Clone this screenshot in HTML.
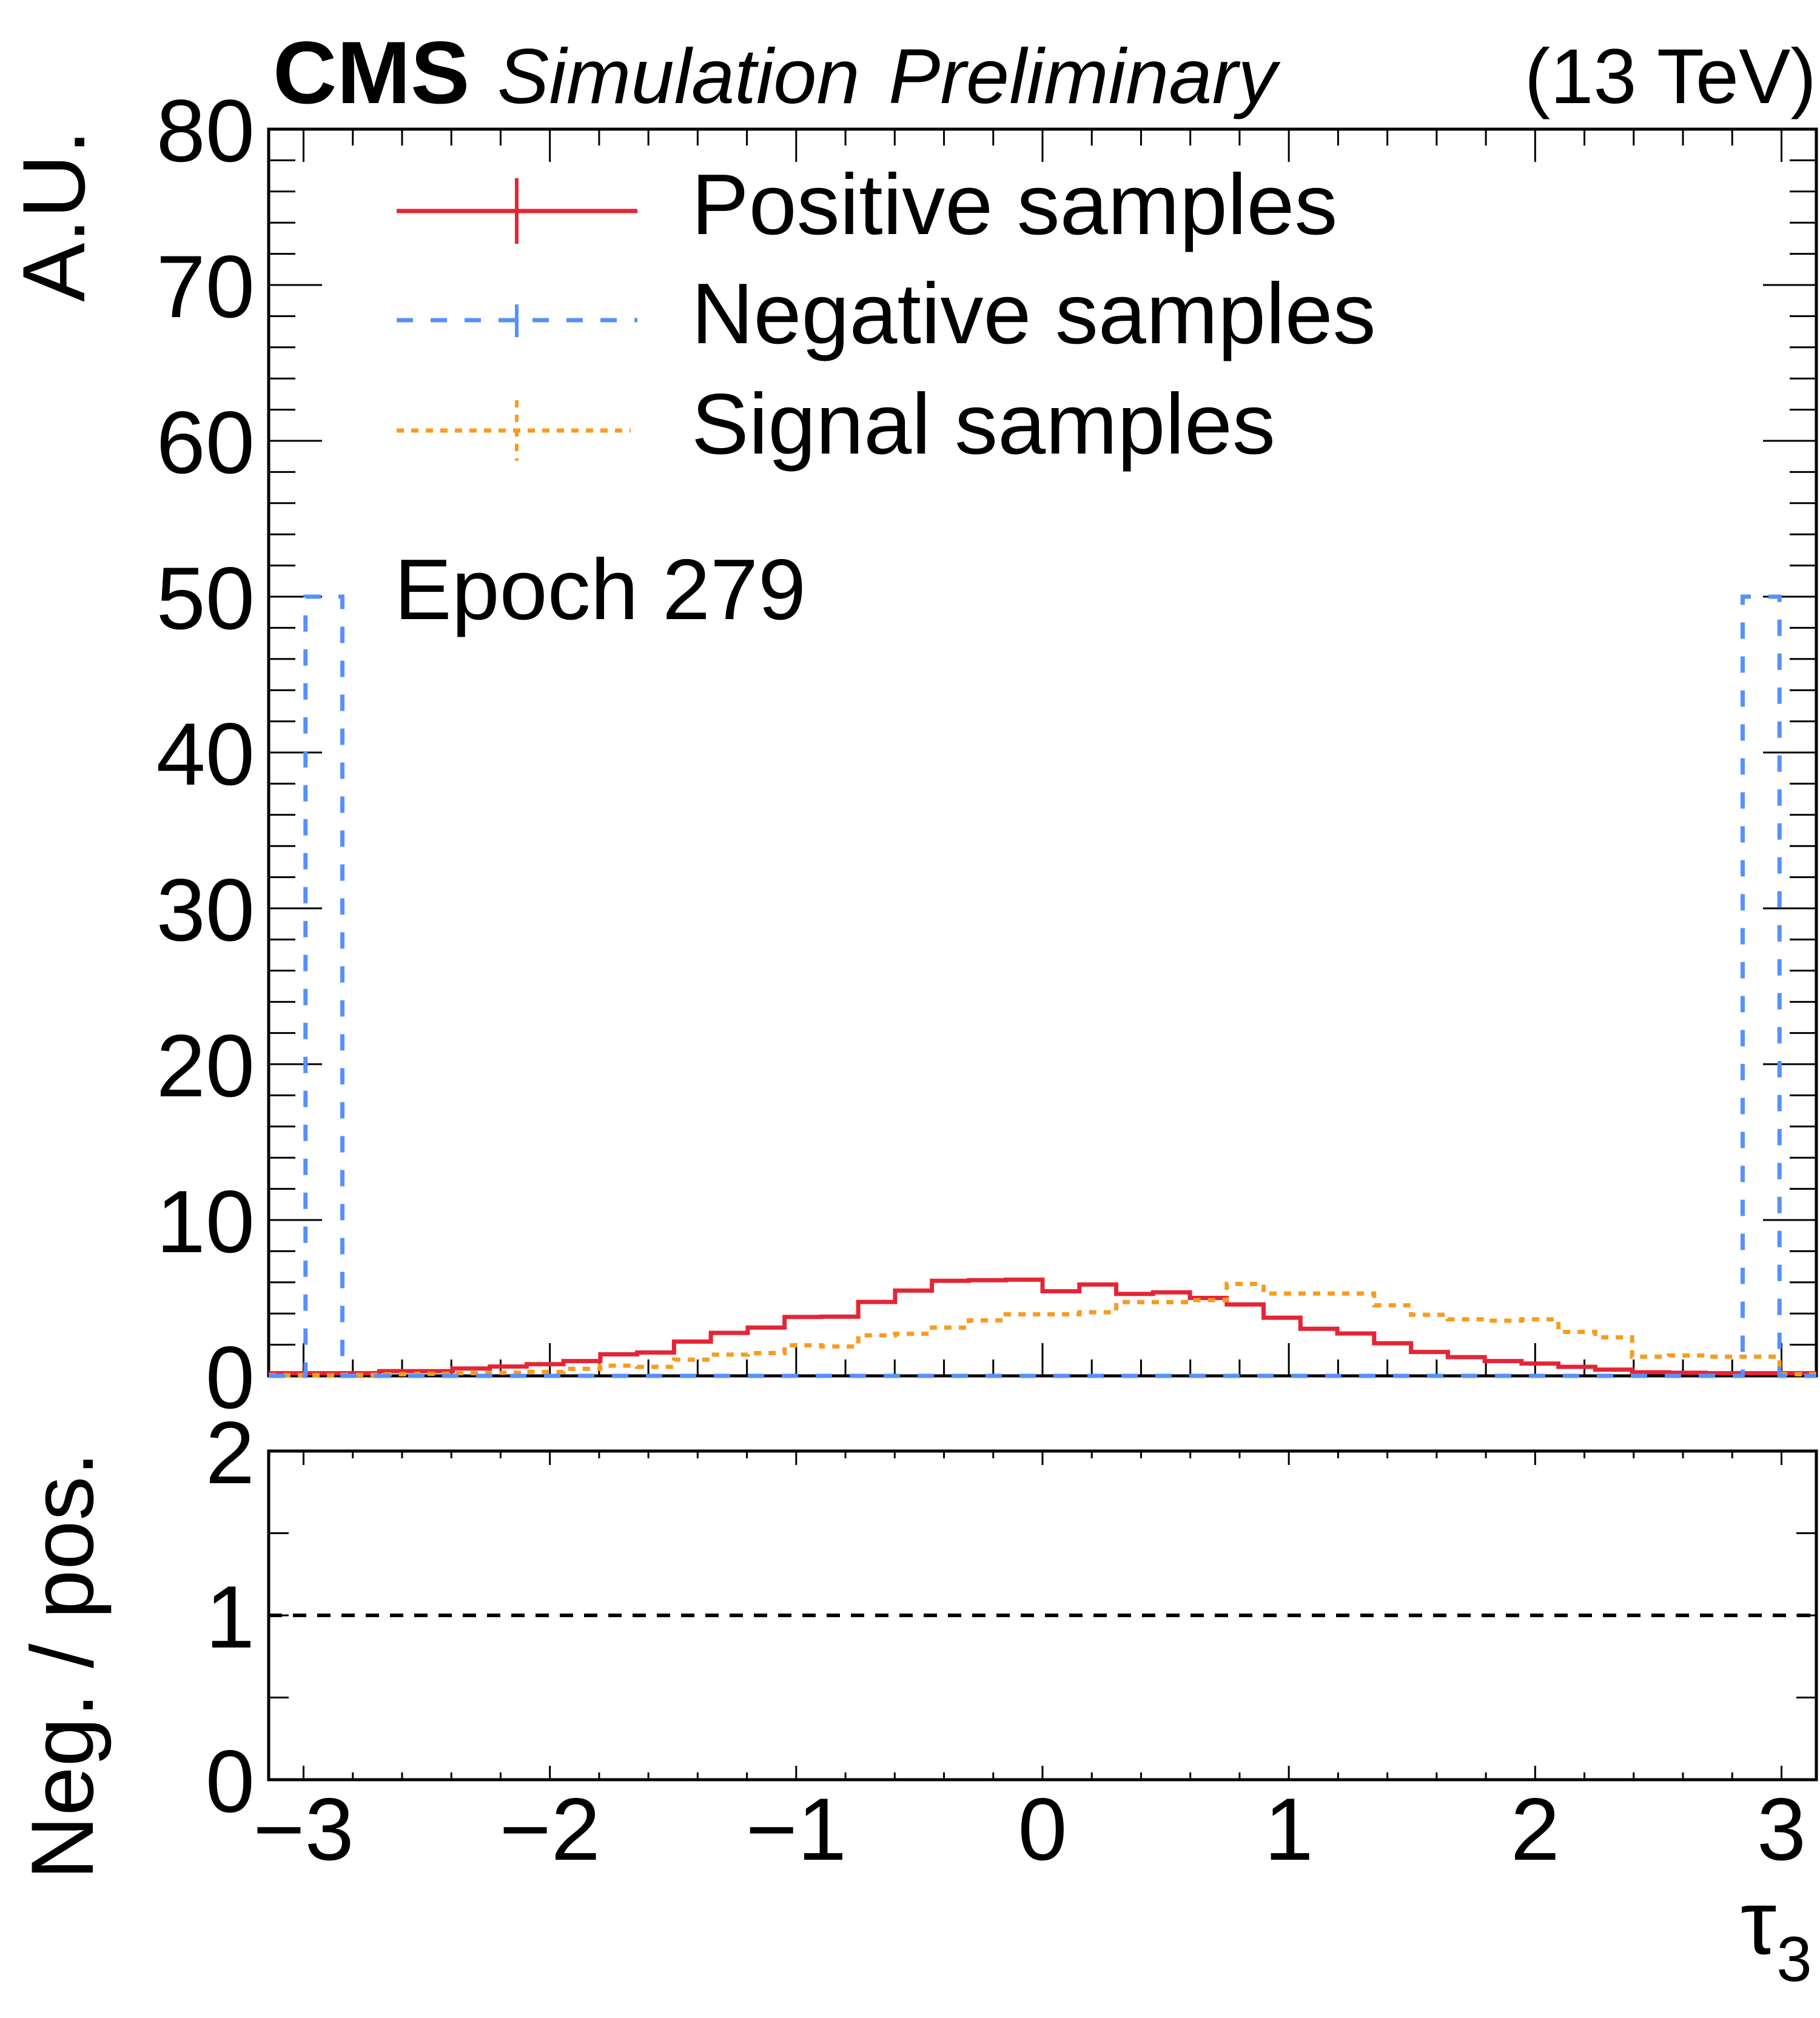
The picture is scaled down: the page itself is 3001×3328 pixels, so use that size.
<!DOCTYPE html>
<html><head><meta charset="utf-8"><style>
html,body{margin:0;padding:0;background:#fff}
svg{display:block}
text{font-family:"Liberation Sans",Arial,sans-serif;fill:#000}
</style></head><body>
<svg id="chart" width="3001" height="3328" viewBox="0 0 3001 3328" xmlns="http://www.w3.org/2000/svg">
<g id="axes"></g>
<g id="marks"></g>
<text x="450" y="170" font-size="146" font-weight="bold">CMS</text>
<text x="820" y="170" font-size="128" font-style="italic">Simulation</text>
<text x="1465" y="170" font-size="128" font-style="italic">Preliminary</text>
<text x="2995" y="170" font-size="128" text-anchor="end">(13 TeV)</text>
<text transform="translate(139,214) rotate(-90)" font-size="146" text-anchor="end">A.U.</text>
<text transform="translate(153,2394) rotate(-90)" font-size="146" text-anchor="end">Neg. / pos.</text>
<text x="2870" y="3222" font-size="150">τ<tspan font-size="105" dy="45">3</tspan></text>
<g>
<g>
<line x1="654" y1="348" x2="1051" y2="348" stroke="#e42536" stroke-width="7"/>
<line x1="852" y1="294" x2="852" y2="402" stroke="#e42536" stroke-width="6"/>
<text x="1140" y="386" font-size="142">Positive samples</text></g>
<g>
<line x1="654" y1="528" x2="1051" y2="528" stroke="#5790fc" stroke-width="7" stroke-dasharray="27,29"/>
<line x1="852" y1="502" x2="852" y2="556" stroke="#5790fc" stroke-width="6"/>
<text x="1140" y="566" font-size="142">Negative samples</text></g>
<g>
<line x1="654" y1="710" x2="1040" y2="710" stroke="#f89c20" stroke-width="7" stroke-dasharray="12,12"/>
<line x1="852" y1="660" x2="852" y2="760" stroke="#f89c20" stroke-width="6" stroke-dasharray="12,12"/>
<text x="1140" y="748" font-size="142">Signal samples</text></g>
</g>
<text x="650" y="1021" font-size="142">Epoch 279</text>
</svg>
<script>
const nBins = 42;
const xMin = -Math.PI, xMax = Math.PI;
const positiveValues = [0.17,0.17,0.17,0.3,0.3,0.47,0.6,0.75,0.95,1.38,1.5,2.2,2.76,3.1,3.78,3.8,4.74,5.47,6.1,6.14,6.17,5.43,5.86,5.26,5.36,5.0,4.58,3.73,3.02,2.72,2.09,1.53,1.2,0.95,0.79,0.58,0.4,0.23,0.2,0.17,0.17,0.17];
const negativeValues = [0,50,0,0,0,0,0,0,0,0,0,0,0,0,0,0,0,0,0,0,0,0,0,0,0,0,0,0,0,0,0,0,0,0,0,0,0,0,0,0,50,0];
const signalValues = [0.05,0.05,0.06,0.1,0.13,0.17,0.2,0.26,0.45,0.65,0.58,1.04,1.36,1.46,1.96,1.88,2.6,2.7,3.1,3.56,3.95,3.95,4.08,4.73,4.73,4.86,5.9,5.28,5.28,5.28,4.53,3.92,3.63,3.54,3.63,2.82,2.47,1.23,1.31,1.23,1.23,0.1];
const ratioValues = [1];
const xTickLabels = [-3,-2,-1,0,1,2,3];
const yTickLabels = [0,10,20,30,40,50,60,70,80];
const ratioTickLabels = [0,1,2];

const L=443,R=2995,T=213,B=2269,RT=2393,RB=2935;
const NS="http://www.w3.org/2000/svg";
const X=v=>L+(v-xMin)/(xMax-xMin)*(R-L);
const Y=v=>B-v/80*(B-T);
const YR=v=>RB-v/2*(RB-RT);
const marks=document.getElementById('marks'), axes=document.getElementById('axes');
function mk(tag,attrs,parent){const e=document.createElementNS(NS,tag);for(const k in attrs)e.setAttribute(k,attrs[k]);parent.appendChild(e);return e;}
function hist(vals,color,dash,name){
  const w=(xMax-xMin)/nBins;let d='';
  vals.forEach((v,i)=>{const x0=X(xMin+i*w),x1=X(xMin+(i+1)*w),y=Y(v);
    d+=(i===0?'M'+x0+','+y:'L'+x0+','+y)+'L'+x1+','+y;});
  const p=mk('path',{d:d,fill:'none',stroke:color,'stroke-width':7,'stroke-dasharray':dash},marks);
  
  
}
hist(positiveValues,'#e42536','none','positive-histogram');
hist(signalValues,'#f89c20','12,12','signal-histogram');
hist(negativeValues,'#5790fc','27,29','negative-histogram');
ratioValues.forEach(v=>{
  const l=mk('line',{x1:L,x2:R,y1:YR(v),y2:YR(v),stroke:'#000','stroke-width':6,'stroke-dasharray':'22,18'},marks);
  
  
});
[[T,B],[RT,RB]].forEach(([t,b],i)=>{
  const r=mk('rect',{x:L,y:t,width:R-L,height:b-t,fill:'none',stroke:'#000','stroke-width':5},axes);
  
  
});
for(let k=-15;k<=15;k++){const v=k*0.2,x=X(v),maj=(k%5===0);
  const lm=maj?54:27, lr=maj?23:12;
  [[T,1],[B,-1]].forEach(([y0,s])=>mk('line',{x1:x,x2:x,y1:y0,y2:y0+s*lm,stroke:'#000','stroke-width':3},axes));
  [[RT,1],[RB,-1]].forEach(([y0,s])=>mk('line',{x1:x,x2:x,y1:y0,y2:y0+s*lr,stroke:'#000','stroke-width':3},axes));
}
xTickLabels.forEach(v=>{const t=mk('text',{x:X(v),y:3067,'font-size':146,'text-anchor':'middle'},axes);t.textContent=(v<0?'\u2212'+(-v):v);
  
  });
for(let v=0;v<=80;v+=2){const y=Y(v),maj=(v%10===0),l=maj?88:44;
  mk('line',{x1:L,x2:L+l,y1:y,y2:y,stroke:'#000','stroke-width':3},axes);
  mk('line',{x1:R,x2:R-l,y1:y,y2:y,stroke:'#000','stroke-width':3},axes);}
yTickLabels.forEach(v=>{const t=mk('text',{x:420,y:Y(v)+53,'font-size':146,'text-anchor':'end'},axes);t.textContent=v;
  
  });
for(let v=0;v<=2;v+=0.5){const y=YR(v);
  mk('line',{x1:L,x2:L+33,y1:y,y2:y,stroke:'#000','stroke-width':3},axes);
  mk('line',{x1:R,x2:R-33,y1:y,y2:y,stroke:'#000','stroke-width':3},axes);}
ratioTickLabels.forEach(v=>{const t=mk('text',{x:420,y:YR(v)+53,'font-size':146,'text-anchor':'end'},axes);t.textContent=v;
  
  });
</script>
</body></html>
